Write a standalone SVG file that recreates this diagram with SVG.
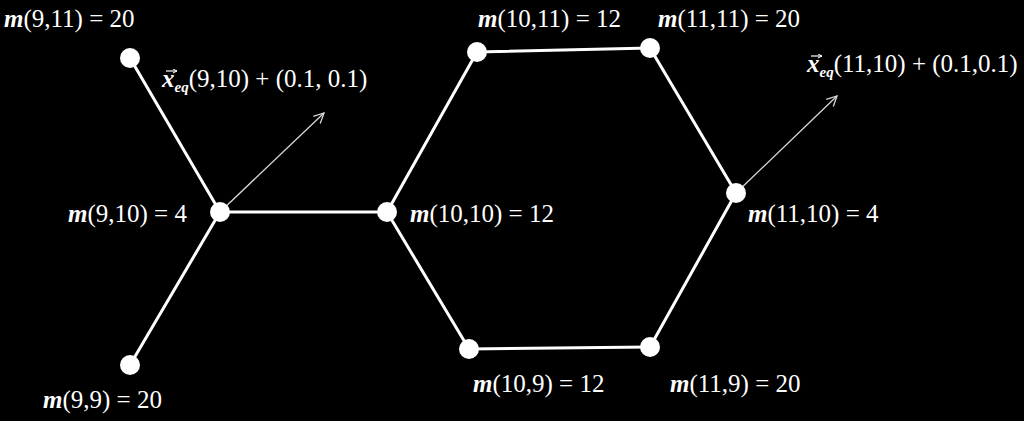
<svg xmlns="http://www.w3.org/2000/svg" width="1024" height="421" viewBox="0 0 1024 421">
<defs>
<style>
.edge{stroke:#fff;stroke-width:3;fill:none;stroke-linecap:round}
.vec{stroke:#d8d8d8;stroke-width:1.3;fill:none}
.acc{stroke:#fff;stroke-width:1.2;fill:none}
.node{fill:#fff}
.lbl{font-family:"Liberation Serif","Times New Roman",serif;font-size:25px;fill:#fff}
.mi{font-weight:bold;font-style:italic}
.sub{font-weight:bold;font-style:italic;font-size:15px}
</style>
<marker id="ah" viewBox="0 0 12 12" refX="11" refY="6" markerWidth="12" markerHeight="12" markerUnits="userSpaceOnUse" orient="auto">
<path d="M1,1 L11,6 L1,11" fill="none" stroke="#d8d8d8" stroke-width="1.3"/>
</marker>
<marker id="ah2" viewBox="0 0 6 6" refX="5.5" refY="3" markerWidth="5" markerHeight="5" markerUnits="userSpaceOnUse" orient="auto">
<path d="M0.5,0.5 L5.5,3 L0.5,5.5" fill="none" stroke="#fff" stroke-width="1.2"/>
</marker>
</defs>
<rect width="1024" height="421" fill="#000"/>
<g id="connectors">
<line class="edge" x1="130" y1="58" x2="220" y2="212"/>
<line class="edge" x1="220" y1="212" x2="130" y2="365"/>
<line class="edge" x1="220" y1="212" x2="387" y2="212"/>
<line class="edge" x1="387" y1="212" x2="477" y2="52"/>
<line class="edge" x1="477" y1="52" x2="650" y2="48"/>
<line class="edge" x1="650" y1="48" x2="736" y2="193"/>
<line class="edge" x1="736" y1="193" x2="650" y2="347"/>
<line class="edge" x1="650" y1="347" x2="469" y2="349"/>
<line class="edge" x1="469" y1="349" x2="387" y2="212"/>
<line class="vec" x1="220" y1="212" x2="324" y2="113" marker-end="url(#ah)"/>
<line class="vec" x1="736" y1="193" x2="837" y2="96" marker-end="url(#ah)"/>
</g>
<g id="n9_11"><circle class="node" cx="130" cy="58" r="10"/><text class="lbl" x="4" y="27"><tspan class="mi">m</tspan>(9,11) = 20</text></g>
<g id="n9_10"><circle class="node" cx="220" cy="212" r="10"/><text class="lbl" x="68" y="222"><tspan class="mi">m</tspan>(9,10) = 4</text>
<text class="lbl" x="162" y="87"><tspan class="mi">x</tspan><tspan class="sub" dy="5">eq</tspan><tspan dy="-5">(9,10) + (0.1, 0.1)</tspan></text>
<line class="acc" x1="166" y1="71" x2="177" y2="71" marker-end="url(#ah2)"/></g>
<g id="n9_9"><circle class="node" cx="130" cy="365" r="10"/><text class="lbl" x="43" y="408"><tspan class="mi">m</tspan>(9,9) = 20</text></g>
<g id="n10_10"><circle class="node" cx="387" cy="212" r="10"/><text class="lbl" x="410" y="222"><tspan class="mi">m</tspan>(10,10) = 12</text></g>
<g id="n10_11"><circle class="node" cx="477" cy="52" r="10"/><text class="lbl" x="478" y="27"><tspan class="mi">m</tspan>(10,11) = 12</text></g>
<g id="n11_11"><circle class="node" cx="650" cy="48" r="10"/><text class="lbl" x="658" y="27"><tspan class="mi">m</tspan>(11,11) = 20</text></g>
<g id="n11_10"><circle class="node" cx="736" cy="193" r="10"/><text class="lbl" x="748" y="222"><tspan class="mi">m</tspan>(11,10) = 4</text>
<text class="lbl" x="807" y="72"><tspan class="mi">x</tspan><tspan class="sub" dy="5">eq</tspan><tspan dy="-5">(11,10) + (0.1,0.1)</tspan></text>
<line class="acc" x1="811" y1="56" x2="822" y2="56" marker-end="url(#ah2)"/></g>
<g id="n10_9"><circle class="node" cx="469" cy="349" r="10"/><text class="lbl" x="473" y="392"><tspan class="mi">m</tspan>(10,9) = 12</text></g>
<g id="n11_9"><circle class="node" cx="650" cy="347" r="10"/><text class="lbl" x="670" y="392"><tspan class="mi">m</tspan>(11,9) = 20</text></g>
</svg>
